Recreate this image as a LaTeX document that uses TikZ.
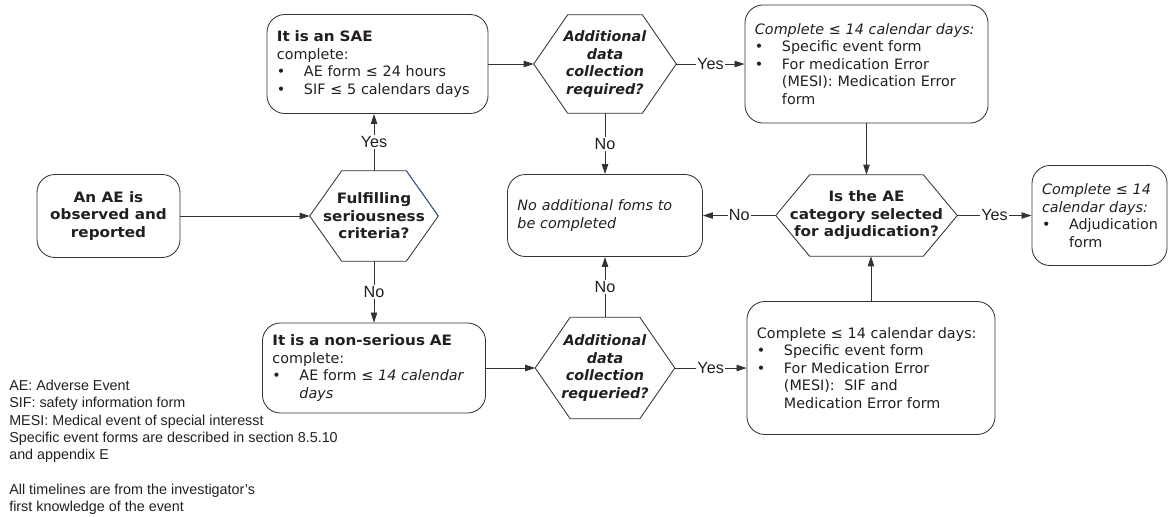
\documentclass[tikz,border=0pt]{standalone}
\usepackage{fontspec}
\setmainfont{DejaVu Sans}[BoldFeatures={FakeStretch=1.06}]
\newfontfamily\notefont{Liberation Sans}
\usetikzlibrary{arrows.meta,calc}
\definecolor{Ink}{HTML}{231F20}
\definecolor{Line}{HTML}{333333}
\definecolor{EdgeBlue}{HTML}{3B5BA5}
\newcommand\boxfont{\fontsize{10.2}{12.4}\selectfont}
\newlength\bulw \setlength\bulw{0.675cm}
\newcommand\bul{\makebox[\bulw][l]{\textbullet}}
\newcommand\cont{\hspace*{\bulw}}
\tikzset{box/.style={draw=Line,line width=.6pt,rounded corners=.45cm,align=left,inner xsep=.25cm,font=\boxfont,text=Ink},hexa/.style={align=center,inner sep=0pt,font=\boxfont\bfseries,text=Ink},flow/.style={-{Triangle[length=2.5mm,width=1.6mm]},line width=.6pt,draw=Line},lbl/.style={fill=white,inner sep=1pt,font=\notefont\fontsize{11.5}{13}\selectfont,text=Ink}}

\begin{document}
\begin{tikzpicture}[x=0.025cm,y=-0.025cm]
  \useasboundingbox (0,0) rectangle (1168,516);
  % boxes
  \node[box,align=center,font=\boxfont\bfseries,minimum width=3.575cm,minimum height=2.075cm] (ae) at (108.5,216) {An AE is\\observed and\\reported};
  \node[box,text width=5.025cm,minimum height=2.475cm] (sae) at (377.5,64) {\textbf{It is an SAE}\\complete:\\\bul AE form ≤ 24 hours\\\bul SIF ≤ 5 calendars days};
  \node[box,text width=5.575cm,minimum height=2.95cm] (mesi) at (866.5,64) {\textit{Complete ≤ 14 calendar days:}\\\bul Specific event form\\\bul For medication Error\\\cont (MESI): Medication Error\\\cont form};
  \node[box,font=\boxfont\itshape,text width=4.375cm,minimum height=2.05cm] (noforms) at (605,215.5) {No additional foms to\\be completed};
  \node[box,text width=2.875cm,minimum height=2.5cm] (adjform) at (1099.5,215.5) {\textit{Complete ≤ 14\\calendar days:}\\\bul Adjudication\\\cont form};
  \node[box,text width=5.075cm,minimum height=2.25cm] (nonser) at (374,368) {\textbf{It is a non-serious AE}\\complete:\\\bul AE form ≤ \textit{14 calendar}\\\cont\textit{days}};
  \node[box,text width=5.7cm,minimum height=3.325cm] (sifbox) at (871,368) {Complete ≤ 14 calendar days:\\\bul Specific event form\\\bul For Medication Error\\\cont (MESI):\ \ SIF and\\\cont Medication Error form};
  % decisions
  \node[hexa,minimum width=3.2cm,minimum height=2.25cm] (fulfil) at (374,216) {Fulfilling\\seriousness\\criteria?};
  \node[hexa,font=\boxfont\bfseries\itshape,minimum width=3.55cm,minimum height=2.45cm] (addtop) at (605,64) {Additional\\data\\collection\\required?};
  \node[hexa,minimum width=4.525cm,minimum height=2.025cm] (adj) at (866.5,215.5) {Is the AE\\category selected\\for adjudication?};
  \node[hexa,font=\boxfont\bfseries\itshape,minimum width=3.475cm,minimum height=2.525cm] (addbot) at (605,368) {Additional\\data\\collection\\requeried?};
  \foreach \h/\s in {fulfil/32,addtop/34,adj/34,addbot/35}
    \draw[line width=.6pt,Line] (\h.west) -- ($(\h.north west)+(\s,0)$) -- ($(\h.north east)+(-\s,0)$) -- (\h.east) -- ($(\h.south east)+(-\s,0)$) -- ($(\h.south west)+(\s,0)$) -- cycle;
  \draw[line width=.6pt,EdgeBlue] ($(fulfil.north east)+(-32,0)$) -- (fulfil.east);
  % notes
  \node[anchor=north west,inner sep=0pt,align=left,font=\notefont\fontsize{10.2}{12.3}\selectfont,text=Ink] (notes) at (9,380) {AE: Adverse Event\\SIF: safety information form\\MESI: Medical event of special interesst\\Specific event forms are described in section 8.5.10\\and appendix E\\[12.3pt]All timelines are from the investigator’s\\first knowledge of the event};
  % connectors
  \draw[flow] (ae) -- (fulfil);
  \draw[flow] (fulfil) -- node[lbl]{Yes} (fulfil |- sae.south);
  \draw[flow] (fulfil) -- node[lbl]{No} (nonser);
  \draw[flow] (sae) -- (addtop);
  \draw[flow] (addtop) -- node[lbl]{Yes} (mesi);
  \draw[flow] (addtop) -- node[lbl]{No} (noforms);
  \draw[flow] (mesi) -- (adj);
  \draw[flow] (adj) -- node[lbl]{No} (noforms);
  \draw[flow] (adj) -- node[lbl]{Yes} (adjform);
  \draw[flow] (nonser) -- (addbot);
  \draw[flow] (addbot) -- node[lbl]{No} (noforms);
  \draw[flow] (addbot) -- node[lbl]{Yes} (sifbox);
  \draw[flow] (sifbox.north) -- (sifbox.north |- adj.south);
\end{tikzpicture}
\end{document}
